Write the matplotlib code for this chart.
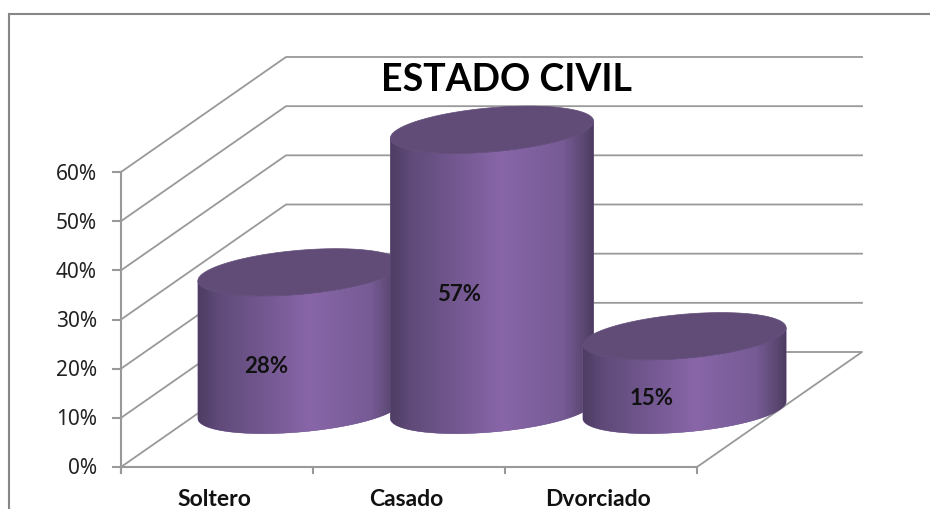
import numpy as np
import matplotlib
matplotlib.use('Agg')
import matplotlib.pyplot as plt
from matplotlib.colors import LinearSegmentedColormap
from matplotlib.patches import Polygon

# ===== DATA =====
categories = ['Soltero', 'Casado', 'Dvorciado']
values = [28, 57, 15]
value_labels = ['28%', '57%', '15%']
y_ticks = [0, 10, 20, 30, 40, 50, 60]
y_tick_labels = ['0%', '10%', '20%', '30%', '40%', '50%', '60%']
title = 'ESTADO CIVIL'

# ===== GEOMETRY (pixels of the 930x509 picture) =====
X0, X1 = 121, 697          # front edge of the floor
Y0 = 467                   # y of 0%
PX_PER_PCT = (467 - 172) / 60
DEPTH_X, DEPTH_Y = 165, -115
CYL_A, CYL_B = 102, 22     # ellipse half axes
CYL_TILT = np.radians(-5)
CYL_BASE_Y = 410
GRID = '#999999'
LID = '#614c78'

body_cmap = LinearSegmentedColormap.from_list(
    'body', [(0, '#4e3d63'), (0.1, '#5f4a79'), (0.55, '#8866a8'),
             (0.85, '#765b95'), (0.96, '#59466f'), (1, '#4c3b60')])


def val_y(v):
    return Y0 - v * PX_PER_PCT


def cat_x(i):
    # centres of the three cylinders, one slot wide each
    slot = (X1 - X0) / len(categories)
    return X0 + slot * (i + 0.5) + 82.5 + i * 0.5


def ellipse(cx, cy, t):
    x = CYL_A * np.cos(t) * np.cos(CYL_TILT) - CYL_B * np.sin(t) * np.sin(CYL_TILT)
    y = CYL_A * np.cos(t) * np.sin(CYL_TILT) + CYL_B * np.sin(t) * np.cos(CYL_TILT)
    return cx + x, cy + y


def draw_cylinder(ax, i, v, z):
    cx = cat_x(i)
    top_y = CYL_BASE_Y - v * PX_PER_PCT
    t_ext = np.arctan2(-CYL_B * np.sin(CYL_TILT), CYL_A * np.cos(CYL_TILT))
    # lower half of the ellipse, from right extreme to left extreme (y grows down)
    t = np.linspace(t_ext, t_ext + np.pi, 80)
    bx, by = ellipse(cx, CYL_BASE_Y, t)
    tx, ty = ellipse(cx, top_y, t[::-1])
    left, right = bx.min(), bx.max()

    body = Polygon(np.column_stack([np.r_[bx, tx], np.r_[by, ty]]), closed=True,
                   fc='#6f5790', ec='#6f5790', lw=0.3, zorder=z)
    ax.add_patch(body)
    grad = np.linspace(0, 1, 256).reshape(1, -1)
    im = ax.imshow(grad, cmap=body_cmap, aspect='auto', zorder=z,
                   extent=[left, right, CYL_BASE_Y + 40, top_y - 40])
    im.set_clip_path(body)

    ex, ey = ellipse(cx, top_y, np.linspace(0, 2 * np.pi, 160))
    ax.add_patch(Polygon(np.column_stack([ex, ey]), closed=True, fc=LID, ec=LID,
                         lw=0.5, zorder=z + 0.1))

    ax.text(cx - 33, CYL_BASE_Y - v * PX_PER_PCT / 2 + 25, value_labels[i],
            fontsize=16, fontweight='bold', family='Lato', color='#111111',
            ha='center', va='center', zorder=z + 0.2)


fig = plt.figure(figsize=(9.3, 5.09), dpi=100)
ax = fig.add_axes([0, 0, 1, 1])
ax.set_xlim(0, 930)
ax.set_ylim(509, 0)
ax.axis('off')

# outer frame of the chart area (cut by the picture edge)
ax.plot([9, 9, 930], [509, 14, 14], color='#868686', lw=1.5, solid_joinstyle='miter', zorder=1)

# walls and gridlines
for v in y_ticks:
    y = val_y(v)
    if v == 0:
        continue
    ax.plot([X0, X0 + DEPTH_X, X1 + DEPTH_X], [y, y + DEPTH_Y, y + DEPTH_Y],
            color=GRID, lw=1.3, zorder=2)
ax.plot([X0, X0 + DEPTH_X, X1 + DEPTH_X, X1], [Y0, Y0 + DEPTH_Y, Y0 + DEPTH_Y, Y0],
        color=GRID, lw=1.3, zorder=2)

# front axes and ticks
ax.plot([X0, X0], [val_y(60), Y0 + 6], color=GRID, lw=1.5, zorder=2)
ax.plot([X0, X1], [Y0, Y0], color=GRID, lw=1.5, zorder=2)
for v, lab in zip(y_ticks, y_tick_labels):
    ax.plot([X0 - 8, X0], [val_y(v), val_y(v)], color=GRID, lw=1.5, zorder=2)
    ax.text(97, val_y(v) + 2, lab, fontsize=15, family='Noto Sans', color='#222222',
            ha='right', va='center', zorder=5)
for i in range(len(categories) + 1):
    x = X0 + (X1 - X0) / len(categories) * i
    ax.plot([x, x], [Y0, Y0 + 6], color=GRID, lw=1.5, zorder=2)

for i, name in enumerate(categories):
    ax.text(X0 + (X1 - X0) / len(categories) * (i + 0.5) - 3, 499, name, fontsize=16.5,
            fontweight='bold', family='Lato', color='#111111',
            ha='center', va='center', zorder=5)

for i, v in enumerate(values):
    draw_cylinder(ax, i, v, 3 + i)

ax.set_xlim(0, 930)
ax.set_ylim(509, 0)

ax.text(506, 80, title, fontsize=27, fontweight='bold', family='Lato', color='black',
        ha='center', va='center', zorder=10)

fig.savefig('out.png', dpi=100)
